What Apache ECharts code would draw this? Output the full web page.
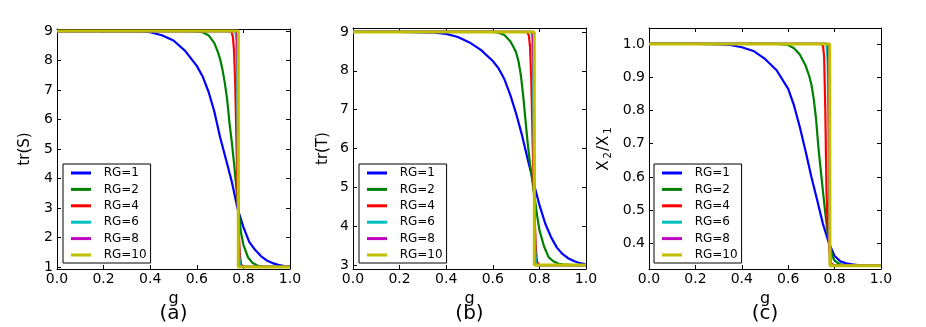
<!DOCTYPE html>
<html>
<head>
<meta charset="utf-8">
<script src="https://cdn.jsdelivr.net/npm/echarts@6/dist/echarts.min.js"></script>
<style>
	html, body { margin: 0; padding: 0; background: #fff; }
	#main { width: 926px; height: 327px; }
</style>
</head>
<body>
<div id="main"></div>
<script>
// g 取值（不同曲线采样点不同）
var gSmooth = [0, 0.1, 0.2, 0.3, 0.35, 0.4, 0.45, 0.5, 0.55, 0.6, 0.625, 0.65, 0.675, 0.7, 0.725, 0.75, 0.775, 0.8, 0.825, 0.85, 0.875, 0.9, 0.925, 0.95, 0.975, 1.0];
var gGreen = [0, 0.5, 0.55, 0.6, 0.625, 0.65, 0.675, 0.69, 0.7, 0.71, 0.72, 0.73, 0.74, 0.75, 0.76, 0.77, 0.78, 0.79, 0.8, 0.82, 0.84, 0.86, 0.88, 0.9, 0.95, 1.0];
var gRed = [0, 0.74, 0.75, 0.755, 0.76, 0.765, 0.77, 0.775, 0.78, 0.785, 0.79, 0.8, 1.0];
var gCyan = [0, 0.765, 0.77, 0.774, 0.778, 0.782, 0.786, 1.0];
var gMag = [0, 0.772, 0.776, 0.778, 0.78, 0.782, 1.0];
var gYel = [0, 0.778, 0.778, 1.0];
var gYelC = [0, 0.779, 0.78, 0.78, 1.0];

// (a) tr(S)
var sRG1 = [9, 9, 9, 8.99, 8.99, 8.96, 8.86, 8.68, 8.33, 7.82, 7.46, 6.95, 6.28, 5.4, 4.65, 3.9, 2.98, 2.35, 1.85, 1.58, 1.37, 1.22, 1.13, 1.07, 1.03, 1.01];
var sRG2 = [9, 9, 9, 8.99, 8.96, 8.86, 8.6, 8.3, 8.05, 7.7, 7.25, 6.7, 5.9, 5.25, 4.5, 3.65, 2.85, 2.15, 1.75, 1.32, 1.13, 1.05, 1.02, 1.01, 1.0, 1.0];
var sRG4 = [9, 9, 8.95, 8.8, 8.3, 7.2, 5.3, 3.5, 2.2, 1.4, 1.08, 1.0, 1.0];
var sRG6 = [9, 9, 8.7, 6.5, 3.0, 1.4, 1.0, 1.0];
var sRG8 = [9, 9, 7.5, 3.0, 1.3, 1.0, 1.0];
var sRG10 = [9, 9, 1, 1];

// (b) tr(T)
var tRG1 = [9, 9, 9, 8.99, 8.98, 8.95, 8.87, 8.73, 8.53, 8.25, 8.06, 7.78, 7.38, 6.9, 6.35, 5.72, 5.12, 4.55, 4.07, 3.72, 3.45, 3.28, 3.17, 3.1, 3.05, 3.02];
var tRG2 = [9, 9, 9, 9, 8.98, 8.92, 8.76, 8.6, 8.47, 8.25, 7.9, 7.38, 6.75, 6.12, 5.6, 5.15, 4.72, 4.28, 3.9, 3.48, 3.2, 3.1, 3.04, 3.02, 3.0, 3.0];
var tRG4 = [9, 9, 8.97, 8.9, 8.6, 7.8, 6.4, 5.2, 4.2, 3.4, 3.08, 3.0, 3.0];
var tRG6 = [9, 9, 8.8, 7.0, 5.0, 3.4, 3.0, 3.0];
var tRG8 = [9, 9, 7.8, 5.0, 3.3, 3.0, 3.0];
var tRG10 = [9, 9, 3, 3];

// (c) X2/X1
var xRG1 = [1.0, 1.0, 1.0, 0.999, 0.997, 0.99, 0.979, 0.955, 0.921, 0.865, 0.815, 0.75, 0.677, 0.6, 0.53, 0.458, 0.402, 0.362, 0.346, 0.34, 0.337, 0.335, 0.334, 0.334, 0.333, 0.333];
var xRG2 = [1, 1, 1, 0.997, 0.987, 0.968, 0.935, 0.905, 0.878, 0.835, 0.775, 0.69, 0.623, 0.555, 0.49, 0.432, 0.393, 0.362, 0.348, 0.338, 0.335, 0.334, 0.334, 0.333, 0.333, 0.333];
var xRG4 = [1, 1, 0.995, 0.96, 0.8, 0.56, 0.45, 0.41, 0.365, 0.34, 0.335, 0.333, 0.333];
var xRG6 = [1, 1, 0.95, 0.7, 0.42, 0.35, 0.334, 0.333];
var xRG8 = [1, 1, 0.8, 0.42, 0.34, 0.333, 0.333];
var xRG10 = [1, 1, 1.005, 0.333, 0.333];

var rgNames = ["RG=1", "RG=2", "RG=4", "RG=6", "RG=8", "RG=10"];
var rgColors = ["#0000ff", "#008000", "#ff0000", "#00bfbf", "#bf00bf", "#bfbf00"];
var sTicks = [1, 2, 3, 4, 5, 6, 7, 8, 9];
var tTicks = [3, 4, 5, 6, 7, 8, 9];
var xrTicks = [0.4, 0.5, 0.6, 0.7, 0.8, 0.9, 1.0];

var FONT = "DejaVu Sans";

function zip(gs, vs) {
	var out = [];
	for(var i = 0; i < gs.length; i++) {
		out.push([gs[i], vs[i]]);
	}
	return out;
}

var panels = [
	{ left: 57, top: 29, width: 233, height: 240, ymin: 0.93, ymax: 9.07, ticks: sTicks, dec: 0,
		name: "tr(S)", gap: 24, label: "(a)", legendLeft: 63,
		g: [gSmooth, gGreen, gRed, gCyan, gMag, gYel], v: [sRG1, sRG2, sRG4, sRG6, sRG8, sRG10] },
	{ left: 353, top: 28, width: 233, height: 241, ymin: 2.9, ymax: 9.1, ticks: tTicks, dec: 0,
		name: "tr(T)", gap: 22, label: "(b)", legendLeft: 359,
		g: [gSmooth, gGreen, gRed, gCyan, gMag, gYel], v: [tRG1, tRG2, tRG4, tRG6, tRG8, tRG10] },
	{ left: 649, top: 28, width: 232, height: 241, ymin: 0.323, ymax: 1.048, ticks: xrTicks, dec: 1,
		name: "X{s|2}/X{s|1}", gap: 36, label: "(c)", legendLeft: 654,
		g: [gSmooth, gGreen, gRed, gCyan, gMag, gYelC], v: [xRG1, xRG2, xRG4, xRG6, xRG8, xRG10] }
];

var grid = [], xAxis = [], yAxis = [], series = [], legend = [], graphic = [];

for(var p = 0; p < panels.length; p++) {
	var pn = panels[p];
	grid.push({ left: pn.left, top: pn.top, width: pn.width, height: pn.height, containLabel: false });

	var tickStyle = { show: true, inside: true, length: 4, lineStyle: { color: "#000", width: 1 } };
	var lineStyle = { show: true, onZero: false, lineStyle: { color: "#000", width: 1 } };

	// 下、上 x 轴
	xAxis.push({
		gridIndex: p, type: "value", min: 0, max: 1, interval: 0.2, position: "bottom",
		name: "g", nameLocation: "middle", nameGap: 14,
		nameTextStyle: { fontFamily: FONT, fontSize: 16, color: "#000" },
		axisLine: lineStyle, axisTick: tickStyle, splitLine: { show: false },
		axisLabel: { color: "#000", fontFamily: FONT, fontSize: 14, margin: 3,
			formatter: function(v) { return v.toFixed(1); } }
	});
	xAxis.push({
		gridIndex: p, type: "value", min: 0, max: 1, interval: 0.2, position: "top",
		axisLine: lineStyle, axisTick: tickStyle, splitLine: { show: false }, axisLabel: { show: false }
	});

	// 左、右 y 轴
	(function(pn) {
		yAxis.push({
			gridIndex: p, type: "value", min: pn.ymin, max: pn.ymax, position: "left",
			name: pn.name, nameLocation: "middle", nameGap: pn.gap, nameRotate: 90,
			nameTextStyle: { fontFamily: FONT, fontSize: 15, color: "#000",
				rich: { s: { fontFamily: FONT, fontSize: 10, color: "#000", padding: [7, 1, 0, 2] } } },
			axisLine: lineStyle,
			axisTick: { show: true, inside: true, length: 4, customValues: pn.ticks, lineStyle: { color: "#000" } },
			splitLine: { show: false },
			axisLabel: { color: "#000", fontFamily: FONT, fontSize: 14, margin: 4, customValues: pn.ticks,
				formatter: function(v) { return v.toFixed(pn.dec); } }
		});
	})(pn);
	yAxis.push({
		gridIndex: p, type: "value", min: pn.ymin, max: pn.ymax, position: "right",
		axisLine: lineStyle,
		axisTick: { show: true, inside: true, length: 4, customValues: pn.ticks, lineStyle: { color: "#000" } },
		splitLine: { show: false }, axisLabel: { show: false }
	});

	for(var k = 0; k < rgNames.length; k++) {
		series.push({
			type: "line", name: rgNames[k],
			xAxisIndex: p * 2, yAxisIndex: p * 2,
			data: zip(pn.g[k], pn.v[k]),
			showSymbol: false, symbol: "none", smooth: false,
			color: rgColors[k],
			lineStyle: { color: rgColors[k], width: k == 5 ? 3 : 2.2 },
			animation: false
		});
	}

	legend.push({
		data: rgNames, orient: "vertical", left: pn.legendLeft, top: 164,
		backgroundColor: "#fff", borderColor: "#000", borderWidth: 1,
		padding: [3, 4, 2, 8], itemGap: 4.4, itemWidth: 20, itemHeight: 3, icon: "rect",
		selectedMode: false,
		// 图例文字与线段之间留出间距
		formatter: function(name) { return "\u00a0\u00a0" + name; },
		textStyle: { fontFamily: FONT, fontSize: 12, color: "#000", lineHeight: 12 }
	});

	graphic.push({
		type: "text", x: pn.left + pn.width / 2, y: 314,
		style: { text: pn.label, font: "20px " + FONT, fill: "#000", align: "center", verticalAlign: "middle" }
	});
}

var chart = echarts.init(document.getElementById("main"), null, { renderer: "canvas" });
chart.setOption({
	animation: false,
	backgroundColor: "#fff",
	grid: grid,
	xAxis: xAxis,
	yAxis: yAxis,
	legend: legend,
	series: series,
	graphic: graphic
});
</script>
</body>
</html>
